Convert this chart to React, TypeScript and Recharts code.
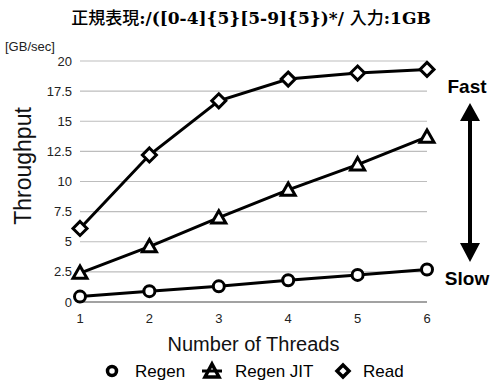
import React from 'react';
import { LineChart, Line, XAxis, YAxis, CartesianGrid } from 'recharts';

// Throughput per thread count, GB/sec
const threads = ['1', '2', '3', '4', '5', '6'];
const regen = [0.45, 0.9, 1.3, 1.8, 2.25, 2.7];
const regenJit = [2.4, 4.6, 7.0, 9.3, 11.4, 13.7];
const read = [6.1, 12.2, 16.7, 18.5, 19.0, 19.3];
const yTicks = [0, 2.5, 5, 7.5, 10, 12.5, 15, 17.5, 20];

const data = threads.map((t, i) => ({
  threads: t,
  Regen: regen[i],
  'Regen JIT': regenJit[i],
  Read: read[i],
}));

const FONT = '"Liberation Sans", Arial, Helvetica, sans-serif';
const SERIF = '"DejaVu Serif", "Liberation Serif", serif';
const CJK = '"Noto Sans CJK JP", sans-serif';

const CircleDot = (props: any) => {
  const { cx, cy } = props;
  if (cx == null || cy == null) return null;
  return <circle cx={cx} cy={cy} r={5.5} fill="#fff" stroke="#000" strokeWidth={3} />;
};

const TriangleDot = (props: any) => {
  const { cx, cy } = props;
  if (cx == null || cy == null) return null;
  const s = 7;
  return (
    <polygon
      points={`${cx},${cy - s} ${cx + s},${cy + s * 0.75} ${cx - s},${cy + s * 0.75}`}
      fill="#fff" stroke="#000" strokeWidth={3}
    />
  );
};

const DiamondDot = (props: any) => {
  const { cx, cy } = props;
  if (cx == null || cy == null) return null;
  const s = 7;
  return (
    <polygon
      points={`${cx},${cy - s} ${cx + s},${cy} ${cx},${cy + s} ${cx - s},${cy}`}
      fill="#fff" stroke="#000" strokeWidth={3}
    />
  );
};

const Overlay = () => (
  <svg width={492} height={380} style={{ position: 'absolute', left: 0, top: 0, pointerEvents: 'none' }}>
    <text x={251} y={24} textAnchor="middle" fontSize={17} fill="#000">
      <tspan fontFamily={CJK} fontWeight={500}>正規表現</tspan>
      <tspan fontFamily={SERIF} fontWeight="bold">:/([0-4]{'{'}5{'}'}[5-9]{'{'}5{'}'})*/ </tspan>
      <tspan fontFamily={CJK} fontWeight={500}>入力</tspan>
      <tspan fontFamily={SERIF} fontWeight="bold">:1GB</tspan>
    </text>
    <text x={5} y={51} fontSize={13} fontFamily={FONT} fill="#222">[GB/sec]</text>

    <text x={31} y={166} transform="rotate(-90 31 166)" textAnchor="middle" fontSize={23} fontFamily={FONT} fill="#111">Throughput</text>

    <text x={467} y={93} textAnchor="middle" fontSize={19} fontWeight="bold" fontFamily={FONT} fill="#000">Fast</text>
    <text x={467} y={285} textAnchor="middle" fontSize={19} fontWeight="bold" fontFamily={FONT} fill="#000">Slow</text>
    <polygon
      points="470,103 480,121 472,121 472,243 480,243 470,262 460,243 468,243 468,121 460,121"
      fill="#000"
    />

    {/* legend */}
    <g fontFamily={FONT} fontSize={17} fill="#000">
      <circle cx={112} cy={371} r={4.5} fill="#fff" stroke="#000" strokeWidth={3.5} />
      <text x={135} y={377}>Regen</text>
      <polygon points="212,364 219,377 205,377" fill="#fff" stroke="#000" strokeWidth={3.5} />
      <line x1={202} y1={371} x2={222} y2={371} stroke="#000" strokeWidth={3} />
      <text x={235} y={377}>Regen JIT</text>
      <polygon points="343,365 349,371 343,377 337,371" fill="#fff" stroke="#000" strokeWidth={3.5} />
      <text x={363} y={377}>Read</text>
    </g>
  </svg>
);

export default function App() {
  return (
    <div style={{ position: 'absolute', left: 0, top: 0, width: 492, height: 380, background: '#fff' }}>
      <LineChart width={492} height={380} data={data} margin={{ top: 61, right: 65, bottom: 48, left: 0 }}>
        <CartesianGrid vertical={false} stroke="#bdbdbd" strokeWidth={1.2} />
        <XAxis
          dataKey="threads"
          height={30}
          axisLine={{ stroke: '#666', strokeWidth: 1.2 }}
          tickLine={false}
          tickMargin={6}
          tick={{ fontSize: 13, fontFamily: FONT, fill: '#222' }}
          label={{ value: 'Number of Threads', position: 'insideBottom', offset: -19, fontSize: 20, fontFamily: FONT, fill: '#111' }}
        />
        <YAxis
          width={80}
          domain={[0, 20]}
          ticks={yTicks}
          interval={0}
          axisLine={false}
          tickLine={false}
          tickMargin={2}
          tick={{ fontSize: 13, fontFamily: FONT, fill: '#222' }}
        />
        <Line dataKey="Regen" stroke="#000" strokeWidth={3} dot={<CircleDot />} isAnimationActive={false} />
        <Line dataKey="Regen JIT" stroke="#000" strokeWidth={3} dot={<TriangleDot />} isAnimationActive={false} />
        <Line dataKey="Read" stroke="#000" strokeWidth={3} dot={<DiamondDot />} isAnimationActive={false} />
      </LineChart>
      <Overlay />
    </div>
  );
}
